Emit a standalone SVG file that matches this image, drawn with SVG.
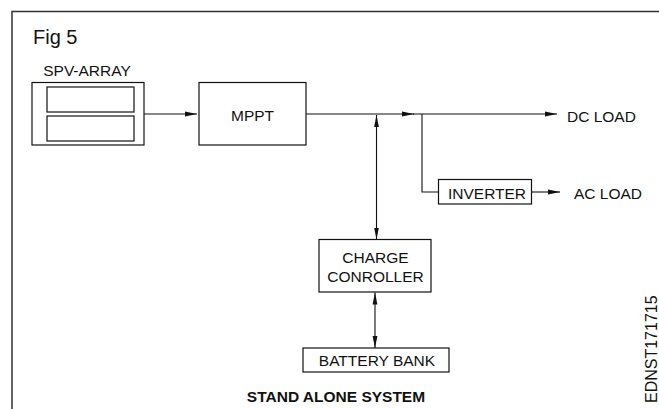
<svg xmlns="http://www.w3.org/2000/svg" width="659" height="409" viewBox="0 0 659 409">
<style>
text{font-family:"Liberation Sans",Arial,sans-serif;fill:#111;font-size:15.5px}
.box{fill:#fff;stroke:#111;stroke-width:1.2}
.ln{fill:none;stroke:#111;stroke-width:1.1}
.frame{fill:none;stroke:#333;stroke-width:1.5}
</style>
<defs>
<marker id="ah" viewBox="0 0 12 6" refX="12" refY="3" markerWidth="12" markerHeight="6" markerUnits="userSpaceOnUse" orient="auto-start-reverse">
<path d="M0,0.6 L12,3 L0,5.4 z" fill="#111"/>
</marker>
</defs>
<rect width="659" height="409" fill="#fff"/>
<path class="frame" d="M12,409 V11.5 H659"/>
<text x="33" y="44" style="font-size:20px">Fig 5</text>
<g id="spv">
<text x="87" y="76" text-anchor="middle">SPV-ARRAY</text>
<rect class="box" x="32" y="82.5" width="112" height="62.5"/>
<rect class="box" x="47" y="87" width="87" height="25"/>
<rect class="box" x="47" y="116" width="87" height="25"/>
</g>
<g id="mppt">
<rect class="box" x="199" y="82.5" width="107" height="62.5"/>
<text x="252.5" y="121" text-anchor="middle">MPPT</text>
</g>
<g id="inverter">
<rect class="box" x="438.5" y="179.5" width="93" height="24.5"/>
<text x="487" y="199" text-anchor="middle">INVERTER</text>
</g>
<g id="charge">
<rect class="box" x="319" y="239.5" width="112" height="52.5"/>
<text x="375.5" y="263" text-anchor="middle">CHARGE</text>
<text x="375.5" y="282" text-anchor="middle">CONROLLER</text>
</g>
<g id="battery">
<rect class="box" x="303" y="348" width="146" height="24"/>
<text x="377" y="366" text-anchor="middle">BATTERY BANK</text>
</g>
<g id="labels">
<text x="567" y="122">DC LOAD</text>
<text x="574" y="199">AC LOAD</text>
<text x="336" y="402" style="font-weight:bold" text-anchor="middle">STAND ALONE SYSTEM</text>
<text transform="translate(657,403) rotate(-90)" style="font-size:16px">EDNST171715</text>
</g>
<g id="connectors">
<line class="ln" x1="144" y1="114" x2="197" y2="114" marker-end="url(#ah)"/>
<line class="ln" x1="306" y1="114" x2="414" y2="114" marker-end="url(#ah)"/>
<line class="ln" x1="413" y1="114" x2="557" y2="114" marker-end="url(#ah)"/>
<polyline class="ln" points="422,114 422,192 438.5,192"/>
<line class="ln" x1="531.5" y1="192" x2="560" y2="192" marker-end="url(#ah)"/>
<line class="ln" x1="376.5" y1="115" x2="376.5" y2="239.5" marker-start="url(#ah)" marker-end="url(#ah)"/>
<line class="ln" x1="375" y1="292.5" x2="375" y2="348" marker-start="url(#ah)" marker-end="url(#ah)"/>
</g>
</svg>
